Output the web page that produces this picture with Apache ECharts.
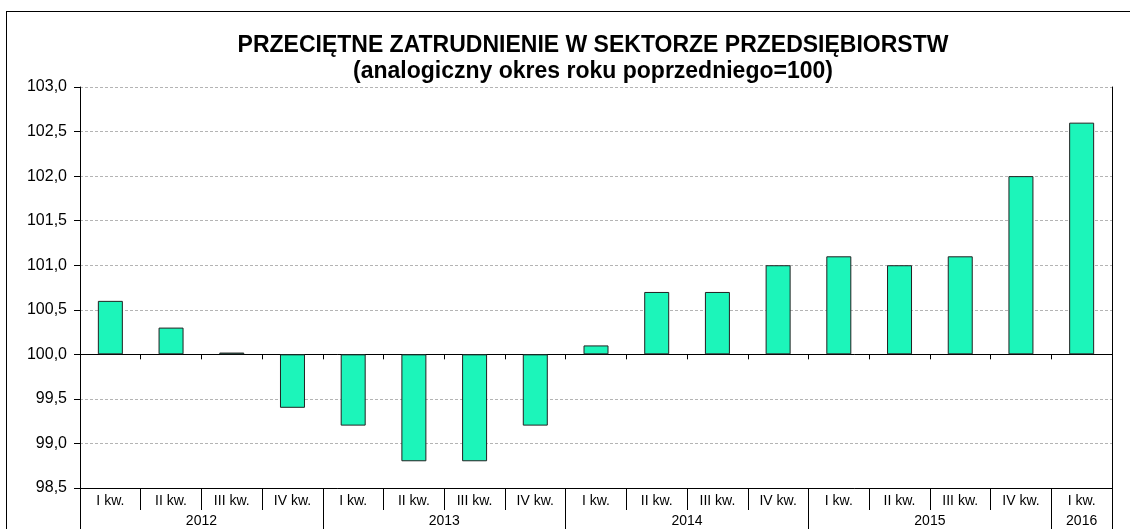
<!DOCTYPE html>
<html>
<head>
<meta charset="utf-8">
<script src="https://cdn.jsdelivr.net/npm/echarts@6/dist/echarts.min.js"></script>
<style>
    body { margin: 0; background: #fff; }
    #wrap { position: relative; width: 1130px; height: 529px; }
    #echarts-zatrudnienie-chart { width: 1130px; height: 529px; }
    #ramka { position: absolute; left: 6px; top: 11px; width: 1124px; height: 518px;
             border-left: 1px solid #000; border-top: 1px solid #000; pointer-events: none; }
</style>
</head>
<body>
<div id="wrap">
    <div id="echarts-zatrudnienie-chart"></div>
    <div id="ramka"></div>
</div>
<script>
var quarters = ['I kw.','II kw.','III kw.','IV kw.','I kw.','II kw.','III kw.','IV kw.',
                'I kw.','II kw.','III kw.','IV kw.','I kw.','II kw.','III kw.','IV kw.','I kw.'];
var values = [100.6, 100.3, 100.02, 99.4, 99.2, 98.8, 98.8, 99.2,
              100.1, 100.7, 100.7, 101.0, 101.1, 101.0, 101.1, 102.0, 102.6];
var years = ['2012', '2013', '2014', '2015', '2016'];
var yearSpans = [4, 4, 4, 4, 1];
var baseValue = 100;

(function () {
    var chart = echarts.init(document.getElementById('echarts-zatrudnienie-chart'));

    // granice i srodki grup lat na osi (indeksy kwartalow)
    var yearEdges = [0], yearCenters = [], pos = 0;
    for (var i = 0; i < yearSpans.length; i++) {
        yearCenters.push(pos + yearSpans[i] / 2);
        pos += yearSpans[i];
        yearEdges.push(pos);
    }
    var diffs = values.map(function (v) { return +(v - baseValue).toFixed(2); });
    var fmt = function (v) { return (v + baseValue).toFixed(1).replace('.', ','); };
    var font = 'Liberation Sans, Arial, sans-serif';

    var option = {
        animation: false,
        title: {
            text: 'PRZECIĘTNE ZATRUDNIENIE W SEKTORZE PRZEDSIĘBIORSTW\n(analogiczny okres roku poprzedniego=100)',
            left: 588,
            textAlign: 'center',
            top: 28,
            textStyle: { fontFamily: font, fontSize: 23, fontWeight: 'bold', color: '#000', lineHeight: 26 }
        },
        grid: { left: 80, right: 18, top: 87, bottom: 41 },
        xAxis: [
            {
                type: 'category',
                data: quarters,
                axisLine: { onZero: true, lineStyle: { color: '#000', width: 1 } },
                axisTick: { show: true, length: 5, interval: 0, lineStyle: { color: '#000' } },
                axisLabel: { show: false }
            },
            {
                type: 'category',
                data: quarters,
                position: 'bottom',
                axisLine: { onZero: false, lineStyle: { color: '#000', width: 1 } },
                axisTick: { show: true, length: 22, interval: 0, lineStyle: { color: '#000' } },
                axisLabel: { interval: 0, margin: 6, fontFamily: font, fontSize: 14, color: '#000' }
            },
            {
                type: 'value',
                min: 0,
                max: quarters.length,
                position: 'bottom',
                offset: 22,
                axisLine: { show: false, onZero: false },
                splitLine: { show: false },
                axisTick: { show: true, customValues: yearEdges, length: 19, lineStyle: { color: '#000' } },
                axisLabel: {
                    customValues: yearCenters,
                    margin: 4,
                    fontFamily: font, fontSize: 14, color: '#000',
                    formatter: function (v) { return years[yearCenters.indexOf(v)]; }
                }
            }
        ],
        yAxis: [
            {
                type: 'value',
                min: -1.5,
                max: 3,
                interval: 0.5,
                axisLine: { show: true, lineStyle: { color: '#000' } },
                axisTick: { show: true, length: 6, lineStyle: { color: '#000' } },
                axisLabel: { formatter: fmt, margin: 13, fontFamily: font, fontSize: 16, color: '#000' },
                splitLine: { show: true, lineStyle: { color: '#b4b4b4', type: [3, 2], width: 1 } }
            },
            {
                type: 'value',
                min: -1.5,
                max: 3,
                interval: 0.5,
                position: 'right',
                axisLine: { show: true, lineStyle: { color: '#000' } },
                axisTick: { show: false },
                axisLabel: { show: false },
                splitLine: { show: false }
            }
        ],
        series: [
            {
                name: 'zatrudnienie',
                type: 'bar',
                xAxisIndex: 0,
                yAxisIndex: 0,
                barWidth: 25,
                data: diffs,
                itemStyle: { color: '#1cf5ba', borderColor: '#222', borderWidth: 1 }
            }
        ]
    };
    chart.setOption(option, true);
    window.onresize = chart.resize;
})();
</script>
</body>
</html>
